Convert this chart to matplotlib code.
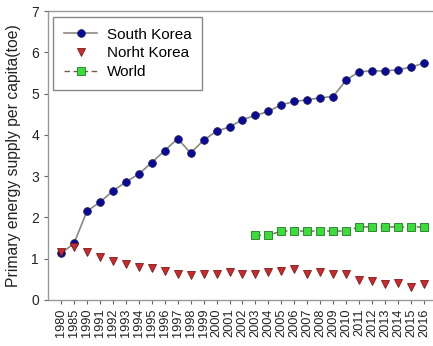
import matplotlib
matplotlib.use("Agg")
import matplotlib.pyplot as plt
import numpy as np

years = ["1980", "1985"] + [str(y) for y in range(1990, 2017)]

south_korea = [1.13, 1.37, 2.15, 2.37, 2.64, 2.86, 3.05, 3.33, 3.62, 3.91,
               3.56, 3.87, 4.09, 4.19, 4.37, 4.47, 4.57, 4.73, 4.81, 4.85,
               4.90, 4.93, 5.33, 5.53, 5.55, 5.55, 5.58, 5.64, 5.74]

north_korea = [1.17, 1.29, 1.17, 1.03, 0.94, 0.86, 0.80, 0.77, 0.70, 0.62,
               0.60, 0.62, 0.64, 0.68, 0.64, 0.64, 0.68, 0.71, 0.74, 0.63,
               0.68, 0.63, 0.63, 0.48, 0.47, 0.39, 0.42, 0.32, 0.38]

world_years = [str(y) for y in range(2003, 2017)]
world = [1.57, 1.57, 1.67, 1.67, 1.67, 1.67, 1.67, 1.67,
         1.77, 1.77, 1.77, 1.77, 1.77, 1.77]

plt.rcParams["font.family"] = ["Liberation Sans", "DejaVu Sans"]

fig = plt.figure(figsize=(4.33, 3.46), dpi=100)
ax = fig.add_axes([0.111, 0.133, 0.889, 0.835])

x = np.arange(len(years))
xw = np.array([years.index(y) for y in world_years])

ax.plot(x, south_korea, color="#8a8a80", lw=1.2, marker="o", ms=5.5,
        mfc="#0a0a9a", mec="#1a1a5a", mew=0.6, label="South Korea")
ax.plot(x, north_korea, ls="none", marker="v", ms=6,
        mfc="#cc2a2a", mec="#7a1a1a", mew=0.6, label="Norht Korea")
ax.plot(xw, world, color="#6e6050", lw=1.0, ls=(0, (4, 2.5)), marker="s", ms=5.5,
        mfc="#3ddc3d", mec="#1f7a1f", mew=0.6, label="World")

ax.set_xlim(-1, 28.7)
ax.set_ylim(0, 7)
ax.set_xticks(x)
ax.set_xticklabels(years, rotation=90, fontsize=9.2)
ax.set_yticks(range(0, 8))
ax.tick_params(axis="y", labelsize=10, length=3, color="#666666", labelcolor="#222222")
ax.tick_params(axis="x", length=3, color="#666666", labelcolor="#222222", pad=3)

for side in ["left", "bottom", "top"]:
    ax.spines[side].set_color("#999999")
    ax.spines[side].set_linewidth(1.0)
ax.spines["right"].set_visible(False)

ax.set_ylabel("Primary energy supply per capita(toe)", fontsize=11.3, color="#222222", labelpad=7)

leg = ax.legend(loc="upper left", bbox_to_anchor=(0.013, 0.979), borderaxespad=0,
                fontsize=11, frameon=True, fancybox=False, edgecolor="#888888",
                framealpha=1, handlelength=2.2, handletextpad=0.6,
                borderpad=0.7, labelspacing=0.3)
leg.get_frame().set_linewidth(1.0)

fig.savefig("out.png", dpi=100)
